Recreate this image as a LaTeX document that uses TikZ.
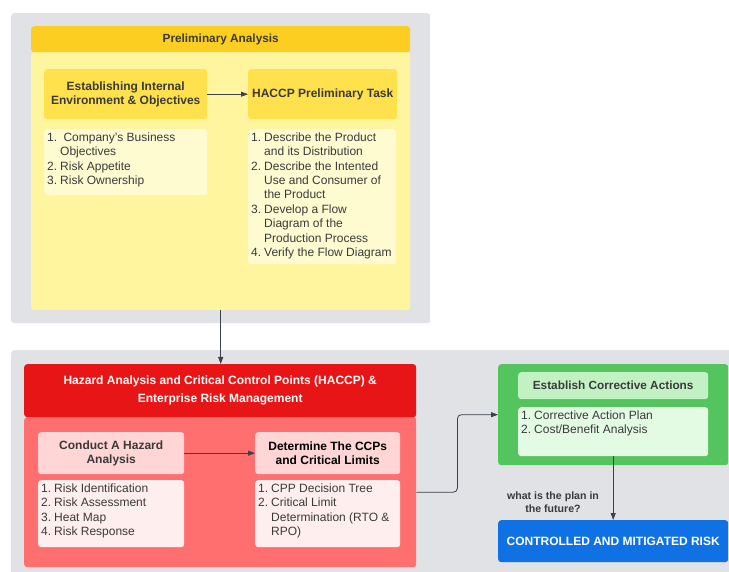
\documentclass[tikz,border=0pt]{standalone}
\usepackage{fontspec}
\setmainfont{Liberation Sans}
\usetikzlibrary{arrows.meta}
\definecolor{panelgray}{HTML}{E0E2E6}
\definecolor{yhead}{HTML}{FDCE22}
\definecolor{ybody}{HTML}{FFF59E}
\definecolor{ybox}{HTML}{FFE14D}
\definecolor{ylist}{HTML}{FFFBD1}
\definecolor{rhead}{HTML}{E71515}
\definecolor{rbody}{HTML}{FF6F6F}
\definecolor{rbox}{HTML}{FFD5D5}
\definecolor{rlist}{HTML}{FFEEEE}
\definecolor{gpanel}{HTML}{54C45E}
\definecolor{ghead}{HTML}{C2F2C4}
\definecolor{glist}{HTML}{E3FAE3}
\definecolor{cblue}{HTML}{1071E5}
\definecolor{textdark}{HTML}{3A3A3A}
\definecolor{linedark}{HTML}{3B424C}
\newcommand{\steplist}[3]{\parbox[c][#2pt][t]{#1pt}{\begin{tabular}[t]{@{}l@{\hspace{3pt}}l@{}}#3\end{tabular}}}
\tikzset{
  box/.style={anchor=north west, rounded corners=3pt, inner sep=0pt, align=center},
  panel/.style={box, fill=panelgray},
  headbox/.style={box, font=\bfseries\fontsize{12}{14.5}\selectfont},
  listbox/.style={box, align=left, inner xsep=3pt, inner ysep=2pt},
  conn/.style={draw=linedark, line width=0.8pt, -{Triangle[length=7pt,width=5pt]}}
}

\begin{document}
\begin{tikzpicture}[x=1pt, y=-1pt, font=\fontsize{12}{14.4}\selectfont, text=textdark]
			\useasboundingbox (0,0) rectangle (729,572);
			
			%%%%% PRELIMINARY ANALYSIS %%%%%
			
			\node[panel, minimum width=419pt, minimum height=310pt] (prelim) at (11,13) {};
			\node[box, fill=ybody, minimum width=379pt, minimum height=258pt] (ybodybox) at (31,52) {};
			\node[box, fill=yhead, minimum width=379pt, minimum height=26pt, font=\bfseries\fontsize{11.8}{13}\selectfont] (yheadbox) at (31,26) {Preliminary Analysis};
			
			\node[headbox, fill=ybox, minimum width=163pt, minimum height=50pt] (internal) at (44,69) {Establishing Internal\\Environment \& Objectives};
			\node[headbox, fill=ybox, minimum width=149pt, minimum height=50pt] (prelimtask) at (248,69) {\raisebox{3pt}{HACCP Preliminary Task}};
			
			\node[listbox, fill=ylist] (objlist) at (44,129) {\steplist{157}{62}{1. & \ Company's Business\\ & Objectives\\ 2. & Risk Appetite\\ 3. & Risk Ownership}};
			\node[listbox, fill=ylist] (tasklist) at (248,129) {\steplist{142}{131}{1. & Describe the Product\\ & and its Distribution\\ 2. & Describe the Intented\\ & Use and Consumer of\\ & the Product\\ 3. & Develop a Flow\\ & Diagram of the\\ & Production Process\\ 4. & Verify the Flow Diagram}};
			
			%%%%% HACCP & ERM %%%%%
			
			\node[panel, minimum width=730pt, minimum height=235pt] (haccp) at (11,350) {};
			\node[box, fill=rbody, minimum width=392pt, minimum height=150pt] (rbodybox) at (24,417) {};
			\node[box, fill=rhead, text=white, minimum width=392pt, minimum height=53pt, font=\bfseries\fontsize{12}{18}\selectfont] (rheadbox) at (24,364) {Hazard Analysis and Critical Control Points (HACCP) \&\\Enterprise Risk Management};
			
			\node[headbox, fill=rbox, font=\bfseries\fontsize{12}{14}\selectfont, minimum width=146pt, minimum height=42pt] (hazard) at (38,432) {Conduct A Hazard\\Analysis};
			\node[headbox, fill=rbox, font=\bfseries\fontsize{12}{14}\selectfont, text=black, minimum width=145pt, minimum height=42pt] (ccps) at (255,432) {Determine The CCPs\\and Critical Limits};
			
			\node[listbox, fill=rlist] (hazardlist) at (38,480) {\steplist{140}{63}{1. & Risk Identification\\ 2. & Risk Assessment\\ 3. & Heat Map\\ 4. & Risk Response}};
			\node[listbox, fill=rlist] (ccplist) at (255,480) {\steplist{139}{63}{1. & CPP Decision Tree\\ 2. & Critical Limit\\ & Determination (RTO \&\\ & RPO)}};
			
			%%%%% CORRECTIVE ACTIONS %%%%%
			
			\node[box, fill=gpanel, minimum width=230pt, minimum height=101pt] (corrective) at (498,364) {};
			\node[headbox, fill=ghead, minimum width=190pt, minimum height=27pt, font=\bfseries\fontsize{11.8}{13}\selectfont] (corrhead) at (518,372) {Establish Corrective Actions};
			\node[listbox, fill=glist] (corrlist) at (518,407) {\steplist{184}{45}{1. & Corrective Action Plan\\ 2. & Cost/Benefit Analysis}};
			
			\node[headbox, fill=cblue, text=white, minimum width=230pt, minimum height=42pt, font=\bfseries\fontsize{12}{13}\selectfont] (mitigated) at (498,520) {CONTROLLED AND MITIGATED RISK};
			
			%%%%% CONNECTORS %%%%%
			
			\draw[conn] (internal) -- (prelimtask);
			\draw[conn] (ybodybox.south) -- (ybodybox.south |- rheadbox.north);
			\draw[conn] (hazard) -- (ccps);
			\draw[conn, rounded corners=4pt] (rbodybox.east) -- ++(41,0) |- (corrective.west);
			\draw[conn] (corrlist.south) -- (mitigated.north);
			\node[align=center, font=\bfseries\fontsize{10.6}{12.5}\selectfont] (futureq) at (553,502) {what is the plan in\\the future?};
			
			%%%%% END %%%%%
\end{tikzpicture}
\end{document}
